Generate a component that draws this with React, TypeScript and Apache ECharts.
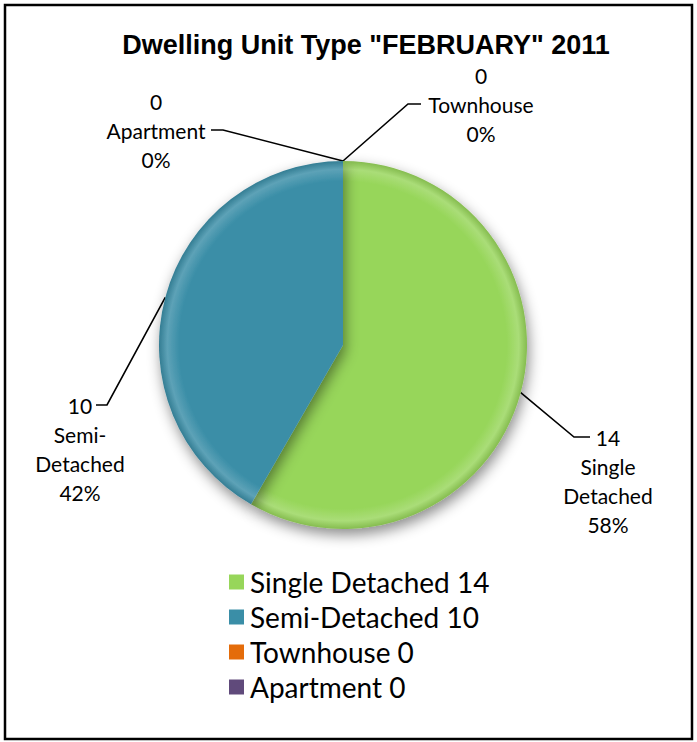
import React, { useEffect, useRef } from 'react';
import * as echarts from 'echarts';

const titleText = 'Dwelling Unit Type "FEBRUARY" 2011';
const categories = ['Single Detached', 'Semi-Detached', 'Townhouse', 'Apartment'];
const values = [14, 10, 0, 0];
const colors = ['#97D65A', '#3A8EA7', '#E46C0A', '#604A7B'];

const W = 697;
const H = 742;
const CX = 343;
const CY = 345;
const R = 184;
const FONT = 'Lato, "Noto Sans", sans-serif';
const LH = 29;

// where each label block sits and how its leader line bends
const labelPlacement = [
  { cx: 608, lineY: 437, line: 0, elbowX: 574, endX: 590 },
  { cx: 80, lineY: 405, line: 0, elbowX: 107, endX: 96 },
  { cx: 481, lineY: 104, line: 1, elbowX: 408, endX: 421 },
  { cx: 156, lineY: 130, line: 1, elbowX: 223, endX: 211 },
];

function mix(hex: string, target: number, t: number) {
  const n = parseInt(hex.slice(1), 16);
  const c = [(n >> 16) & 255, (n >> 8) & 255, n & 255].map((v) => Math.round(v + (target - v) * t));
  return `rgb(${c[0]},${c[1]},${c[2]})`;
}

function midAngle(i: number) {
  const total = values.reduce((a, b) => a + b, 0);
  const before = values.slice(0, i).reduce((a, b) => a + b, 0);
  return ((before + values[i] / 2) / total) * 2 * Math.PI;
}

export default function App() {
  const ref = useRef<HTMLDivElement>(null);
  useEffect(() => {
    if (!ref.current) return;
    const chart = echarts.init(ref.current, undefined, { renderer: 'svg' });
    const option = {
      animation: false,
      backgroundColor: '#ffffff',
      title: {
        text: titleText,
        left: 361,
        top: 26,
        textAlign: 'center',
        textStyle: { fontFamily: '"Liberation Sans", Arial, sans-serif', fontWeight: 'bold', fontSize: 27, color: '#000' },
      },
      legend: {
        orient: 'vertical',
        left: 224,
        top: 562,
        icon: 'rect',
        itemWidth: 15,
        itemHeight: 15,
        itemGap: 5,
        textStyle: { fontFamily: FONT, fontSize: 28, lineHeight: 30, color: '#000', padding: [0, 0, 0, 1] },
        data: categories.map((c, i) => ({ name: c, itemStyle: { color: colors[i] } })),
        formatter: (name: string) => `${name} ${values[categories.indexOf(name)]}`,
      },
      graphic: [
        {
          type: 'rect',
          shape: { x: 5, y: 5, width: 687, height: 734 },
          style: { fill: 'none', stroke: '#000', lineWidth: 2.5 },
          z: 100,
        },
      ],
      series: [
        {
          type: 'pie',
          center: [CX, CY],
          radius: R,
          startAngle: 90,
          clockwise: true,
          avoidLabelOverlap: false,
          minShowLabelAngle: 0,
          data: categories.map((c, i) => ({
            name: c,
            value: values[i],
            itemStyle: {
              color: new echarts.graphic.RadialGradient(
                CX,
                CY,
                R,
                [
                  { offset: 0, color: colors[i] },
                  { offset: 0.89, color: colors[i] },
                  { offset: 0.955, color: mix(colors[i], 255, 0.18) },
                  { offset: 1, color: mix(colors[i], 0, 0.12) },
                ],
                true
              ),
            },
          })),
          itemStyle: {
            borderWidth: 0,
            shadowBlur: 14,
            shadowColor: 'rgba(0,0,0,0.45)',
            shadowOffsetX: 2,
            shadowOffsetY: 6,
          },
          label: {
            show: true,
            position: 'outside',
            fontFamily: FONT,
            fontSize: 21,
            lineHeight: LH,
            color: '#000',
            align: 'center',
            formatter: (p: any) =>
              `${p.value}\n${String(p.name).replace(' ', '\n').replace('-', '-\n')}\n${Math.round(p.percent)}%`,
          },
          labelLine: {
            show: true,
            smooth: false,
            lineStyle: { color: '#000', width: 1.6 },
          },
          labelLayout: (params: any) => {
            const i = params.dataIndex;
            const p = labelPlacement[i];
            const a = midAngle(i);
            const rim = [CX + R * Math.sin(a), CY - R * Math.cos(a)];
            return {
              x: p.cx,
              y: p.lineY - (p.line + 0.5) * LH,
              align: 'center',
              verticalAlign: 'top',
              labelLinePoints: [rim, [p.elbowX, p.lineY], [p.endX, p.lineY]],
            };
          },
          emphasis: { disabled: true },
        },
      ],
    };
    chart.setOption(option as any);
    return () => chart.dispose();
  }, []);
  return (
    <div
      ref={ref}
      style={{ position: 'fixed', left: 0, top: 0, width: W, height: H, background: '#fff' }}
    />
  );
}
